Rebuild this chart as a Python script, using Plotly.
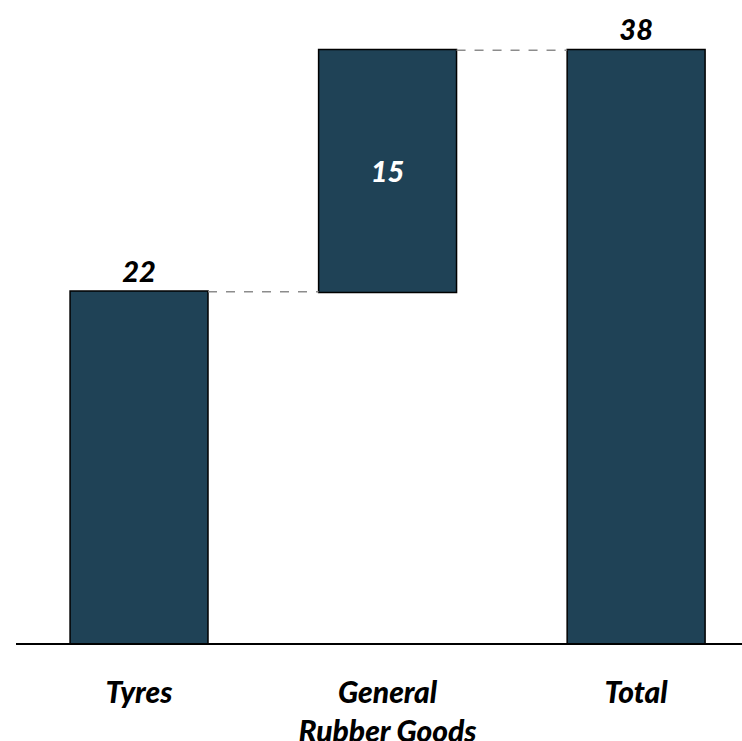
import plotly.graph_objects as go

# Market segments and their contributions
categories = ["Tyres", "General<br>Rubber Goods", "Total"]
values = [22.4, 15.4, 0]
measures = ["relative", "relative", "total"]

running_total = sum(values[:2])
labels = [f"{values[0]:.0f}", f"{values[1]:.0f}", f"{running_total:.0f}"]

bar_color = "#1F4256"
font_family = "Lato"

bar_style = dict(marker=dict(color=bar_color, line=dict(color="black", width=1.5)))

fig = go.Figure(
    go.Waterfall(
        x=categories,
        y=values,
        measure=measures,
        text=labels,
        textposition=["outside", "inside", "outside"],
        insidetextanchor="middle",
        outsidetextfont=dict(family=font_family, size=29, color="black",
                             weight=900, style="italic"),
        insidetextfont=dict(family=font_family, size=29, color="white",
                            weight=900, style="italic"),
        increasing=bar_style,
        decreasing=bar_style,
        totals=bar_style,
        connector=dict(mode="between",
                       line=dict(color="#8C8C8C", width=1.5, dash="dash")),
        width=0.555,
        cliponaxis=False,
        showlegend=False,
    )
)

fig.update_layout(
    width=742,
    height=741,
    margin=dict(l=16, r=0, t=0, b=98, autoexpand=False),
    plot_bgcolor="white",
    paper_bgcolor="white",
    xaxis=dict(
        range=[-0.495, 2.426],
        automargin=False,
        showline=True,
        linecolor="black",
        linewidth=2,
        ticks="",
        ticklabelstandoff=22,
        tickfont=dict(family=font_family, size=30, color="black",
                      weight=900, style="italic"),
        showgrid=False,
        zeroline=False,
    ),
    yaxis=dict(
        range=[0, 41.0],
        visible=False,
        automargin=False,
        showgrid=False,
        zeroline=False,
    ),
)

fig.write_html("out.html")
